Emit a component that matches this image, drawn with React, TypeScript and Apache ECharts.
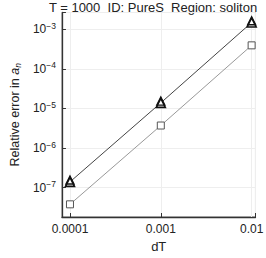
import React, { useEffect, useRef } from "react";
import * as echarts from "echarts";

const dT = [0.0001, 0.001, 0.01];
const errTriangle = [1.4e-7, 1.38e-5, 1.47e-3];
const errTriangle2 = [1.56e-7, 1.53e-5, 1.63e-3];
const errSquare = [3.8e-8, 3.7e-6, 3.9e-4];
const xMinorGrid = [0.0005, 0.005];
const titleText = "T = 1000  ID: PureS  Region: soliton";
const xName = "dT";

const FONT = "'Liberation Sans', Arial, sans-serif";

function isPow10(v: number) {
  const l = Math.log10(v);
  return Math.abs(l - Math.round(l)) < 1e-6;
}

export default function App() {
  const ref = useRef<HTMLDivElement>(null);
  useEffect(() => {
    const chart = echarts.init(ref.current!, null, { renderer: "svg" });
    const pts = (ys: number[]) => dT.map((x, i) => [x, ys[i]]);
    chart.setOption({
      animation: false,
      textStyle: { fontFamily: FONT },
      graphic: [
        {
          type: "text",
          x: 153,
          y: 0.5,
          style: {
            text: titleText,
            align: "center",
            verticalAlign: "top",
            fontSize: 13,
            fontFamily: FONT,
            fill: "#222",
          },
        },
      ],
      grid: {
        left: 46,
        right: 8,
        top: 12.5,
        bottom: 36,
        show: true,
        borderColor: "#888",
        borderWidth: 1,
        backgroundColor: "transparent",
      },
      xAxis: {
        type: "log",
        logBase: 10,
        min: 8.155e-5,
        max: 0.01102,
        name: xName,
        nameLocation: "middle",
        nameGap: 23,
        nameTextStyle: { fontSize: 13, color: "#222", fontFamily: FONT },
        axisLine: { show: true, lineStyle: { color: "#333", width: 1.3 } },
        axisTick: { show: true, inside: true, length: 4, lineStyle: { color: "#333" } },
        axisLabel: {
          fontSize: 12,
          color: "#222",
          margin: 6,
          fontFamily: FONT,
          showMinLabel: true,
          showMaxLabel: true,
          formatter: (v: number) => {
            if (!isPow10(v)) return "";
            const e = Math.round(Math.log10(v));
            return Math.pow(10, e).toFixed(Math.max(0, -e));
          },
        },
        splitLine: { show: true, lineStyle: { color: "#eee", width: 1 } },
      },
      yAxis: {
        type: "log",
        logBase: 10,
        min: 1.82e-8,
        max: 2.63e-3,
        name: "Relative error in {i|a}{sub|n}",
        nameLocation: "middle",
        nameGap: 35,
        nameTextStyle: {
          fontSize: 12.5,
          color: "#222",
          fontFamily: FONT,
          rich: {
            i: { fontSize: 12.5, fontStyle: "italic", color: "#222", fontFamily: FONT },
            sub: { fontSize: 8.5, fontStyle: "italic", color: "#222", fontFamily: FONT, padding: [6, 0, 0, 0] },
          },
        },
        axisLine: { show: true, lineStyle: { color: "#333", width: 1.3 } },
        axisTick: { show: true, inside: true, length: 4, lineStyle: { color: "#333" } },
        axisLabel: {
          margin: 6,
          color: "#222",
          fontFamily: FONT,
          showMinLabel: true,
          showMaxLabel: true,
          formatter: (v: number) => {
            if (!isPow10(v)) return "";
            const e = Math.round(Math.log10(v));
            return `{b|10}{s|${e < 0 ? "\u2212" : ""}${Math.abs(e)}}`;
          },
          rich: {
            b: { fontSize: 12, color: "#222", fontFamily: FONT, lineHeight: 16 },
            s: { fontSize: 8.5, color: "#222", fontFamily: FONT, padding: [0, 0, 7, 0] },
          },
        },
        splitLine: { show: true, lineStyle: { color: "#eee", width: 1 } },
      },
      series: [
        {
          type: "line",
          data: pts(errSquare),
          symbol: "rect",
          symbolSize: 7,
          lineStyle: { color: "#999", width: 1 },
          itemStyle: { color: "#fff", borderColor: "#555", borderWidth: 1 },
          z: 3,
          markLine: {
            silent: true,
            symbol: "none",
            label: { show: false },
            lineStyle: { color: "#eee", width: 1, type: "solid" },
            data: xMinorGrid.map((x) => ({ xAxis: x })),
            z: 1,
          },
        },
        {
          type: "line",
          data: pts(errTriangle),
          symbol: "triangle",
          symbolSize: 9,
          lineStyle: { color: "#444", width: 1 },
          itemStyle: { color: "#fff", borderColor: "#111", borderWidth: 1.6 },
          z: 4,
        },
        {
          type: "line",
          data: pts(errTriangle2),
          symbol: "triangle",
          symbolSize: 8,
          lineStyle: { width: 0, opacity: 0 },
          itemStyle: { color: "transparent", borderColor: "#111", borderWidth: 1.4 },
          z: 5,
        },
      ],
    });
    return () => chart.dispose();
  }, []);
  return (
    <div
      ref={ref}
      style={{ position: "fixed", left: 0, top: 0, width: 266, height: 258, background: "#fff" }}
    />
  );
}
